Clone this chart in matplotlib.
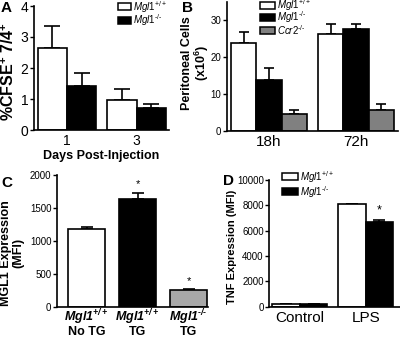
import numpy as np
import matplotlib
matplotlib.use('Agg')
import matplotlib.pyplot as plt
from matplotlib.patches import Rectangle
from matplotlib.transforms import blended_transform_factory

plt.rcParams['font.family'] = 'Liberation Sans'
plt.rcParams['mathtext.fontset'] = 'custom'
plt.rcParams['mathtext.rm'] = 'Liberation Sans'
plt.rcParams['mathtext.it'] = 'Liberation Sans:italic'
plt.rcParams['mathtext.bf'] = 'Liberation Sans:bold'
plt.rcParams['mathtext.bfit'] = 'Liberation Sans:italic:bold'

# ---- data ----
# A: %CFSE+ 7/4+
a_days = ['1', '3']
a_wt = [2.63, 0.98]
a_wt_err = [0.72, 0.33]
a_ko = [1.41, 0.70]
a_ko_err = [0.42, 0.13]

# B: peritoneal cells (x10^6)
b_times = ['18h', '72h']
b_wt = [23.9, 26.3]
b_wt_err = [3.0, 2.7]
b_ko = [13.8, 27.6]
b_ko_err = [3.3, 1.4]
b_ccr2 = [4.4, 5.6]
b_ccr2_err = [1.2, 1.6]

# C: MGL1 expression (MFI)
c_geno = ['+/+', '+/+', '\u2010/\u2010']
c_treat = ['No TG', 'TG', 'TG']
c_vals = [1177, 1627, 253]
c_err = [35, 100, 15]
c_sig = [False, True, True]

# D: TNF expression (MFI)
d_conds = ['Control', 'LPS']
d_wt = [210, 8100]
d_wt_err = [0, 0]
d_ko = [240, 6660]
d_ko_err = [0, 180]
d_sig = [False, True]

WT = r'$\mathit{Mgl1}^{\mathit{+/+}}$'
KO = '$\\mathit{Mgl1}^{\\mathit{\u2010/\u2010}}$'
CCR = '$\\mathit{Ccr2}^{\\mathit{\u2010/\u2010}}$'
GRAY_B = '#808080'
GRAY_C = '#a8a8a8'

W, H = 400, 339
fig = plt.figure(figsize=(W / 100, H / 100), dpi=100)


def px_axes(left, top, right, bottom):
    return fig.add_axes([left / W, 1 - bottom / H, (right - left) / W, (bottom - top) / H])


def px_text(x, y, s, **kw):
    return fig.text(x / W, 1 - y / H, s, **kw)


def style(ax):
    for s in ['top', 'right']:
        ax.spines[s].set_visible(False)
    for s in ['left', 'bottom']:
        ax.spines[s].set_linewidth(1.2)
    ax.tick_params(axis='y', direction='out', length=3, width=1.0, labelsize=7, pad=1)
    ax.tick_params(axis='x', length=0, labelsize=11, pad=3)


def bars(ax, x, vals, errs, color, width, cap):
    ax.bar(x, vals, width, color=color, edgecolor='black', linewidth=1.2, zorder=2)
    ax.errorbar(x, vals, yerr=[np.zeros(len(vals)), errs], fmt='none', ecolor='black',
                elinewidth=1.2, capsize=cap, capthick=1.2, zorder=1)


def key(x0, x1, rows, colors, labels, h=7):
    # little legend drawn in figure pixels
    for yc, col, lab in zip(rows, colors, labels):
        fig.patches.append(Rectangle((x0 / W, 1 - (yc + h / 2) / H), (x1 - x0) / W, h / H,
                                     transform=fig.transFigure, facecolor=col,
                                     edgecolor='black', linewidth=1.1))
        px_text(x1 + 2, yc, lab, fontsize=7, ha='left', va='center')


# ---- A ----
axA = px_axes(34, 6, 169, 130)
style(axA)
xa = np.arange(len(a_days))
wa = 0.42
bars(axA, xa - wa / 2, a_wt, a_wt_err, 'white', wa, 5.5)
bars(axA, xa + wa / 2, a_ko, a_ko_err, 'black', wa, 5.5)
axA.set_xlim(-0.473, 1.467)
axA.set_ylim(0, 4)
axA.set_yticks([0, 1, 2, 3, 4])
axA.tick_params(axis='y', labelsize=10)
axA.set_xticks(xa)
axA.set_xticklabels(a_days, fontsize=10)
axA.set_xlabel('Days Post-Injection', fontsize=9, fontweight='bold', labelpad=1)
px_text(8, 71, r'%CFSE$^{\mathbf{+}}$ 7/4$^{\mathbf{+}}$', fontsize=11.5, fontweight='bold',
        rotation=90, ha='center', va='center')
key(118, 131, [6.7, 20], ['white', 'black'], [WT, KO])

# ---- B ----
axB = px_axes(227, 2, 398, 130.5)
style(axB)
xb = np.arange(len(b_times))
wb = 0.29
bars(axB, xb - wb, b_wt, b_wt_err, 'white', wb, 3.5)
bars(axB, xb, b_ko, b_ko_err, 'black', wb, 3.5)
bars(axB, xb + wb, b_ccr2, b_ccr2_err, GRAY_B, wb, 3.5)
axB.set_xlim(-0.483, 1.483)
axB.set_ylim(0, 35)
axB.set_yticks([0, 10, 20, 30])
axB.set_xticks(xb)
axB.set_xticklabels(b_times)
px_text(196, 63, 'Peritoneal Cells\n' + r'(x10$^{\mathbf{6}}$)', fontsize=9, fontweight='bold',
        rotation=90, ha='center', va='center', multialignment='center', linespacing=1.0)
key(260, 275, [5, 17.5, 30], ['white', 'black', GRAY_B], [WT, KO, CCR])

# ---- C ----
axC = px_axes(57, 174.7, 208, 306.7)
style(axC)
xc = np.arange(len(c_vals))
wc = 0.725
c_colors = ['white', 'black', GRAY_C]
for i in range(len(c_vals)):
    bars(axC, [xc[i]], [c_vals[i]], [c_err[i]], c_colors[i], wc, 4)
    if c_sig[i]:
        axC.text(xc[i], c_vals[i] + c_err[i] + 50, '*', ha='center', va='bottom', fontsize=8)
axC.set_xlim(-0.58, 2.38)
axC.set_ylim(0, 2000)
axC.set_yticks([0, 500, 1000, 1500, 2000])
axC.set_xticks(xc)
axC.set_xticklabels([])
tr = blended_transform_factory(axC.transData, fig.transFigure)
for i in range(len(c_vals)):
    axC.text(xc[i], 1 - 317 / H, '$\\mathbfit{Mgl1}^{\\mathbfit{%s}}$' % c_geno[i], transform=tr,
             ha='center', va='center', fontsize=9)
    axC.text(xc[i], 1 - 332 / H, c_treat[i], transform=tr, ha='center', va='center',
             fontsize=9, fontweight='bold')
px_text(12, 253, 'MGL1 Expression\n(MFI)', fontsize=9, fontweight='bold', rotation=90,
        ha='center', va='center', multialignment='center', linespacing=1.0)

# ---- D ----
axD = px_axes(269.3, 180, 399.5, 306.7)
style(axD)
xd = np.arange(len(d_conds))
wd = 0.417
bars(axD, xd - wd / 2, d_wt, d_wt_err, 'white', wd, 4)
bars(axD, xd + wd / 2, d_ko, d_ko_err, 'black', wd, 4)
for i in range(len(d_conds)):
    if d_sig[i]:
        axD.text(xd[i] + wd / 2, d_ko[i] + d_ko_err[i] + 300, '*', ha='center', va='bottom', fontsize=9)
axD.set_xlim(-0.465, 1.515)
axD.set_ylim(0, 10000)
axD.set_yticks([0, 2000, 4000, 6000, 8000, 10000])
axD.set_xticks(xd)
axD.set_xticklabels(d_conds)
px_text(232, 247, 'TNF Expression (MFI)', fontsize=8, fontweight='bold', rotation=90,
        ha='center', va='center')
key(282, 298, [176.7, 191.7], ['white', 'black'], [WT, KO])

# panel letters
for lbl, x, y in [('A', 1, 1), ('B', 182, 1), ('C', 1, 176), ('D', 223, 174)]:
    px_text(x, y, lbl, fontsize=11, fontweight='bold', ha='left', va='top')

fig.savefig('out.png', dpi=100)
